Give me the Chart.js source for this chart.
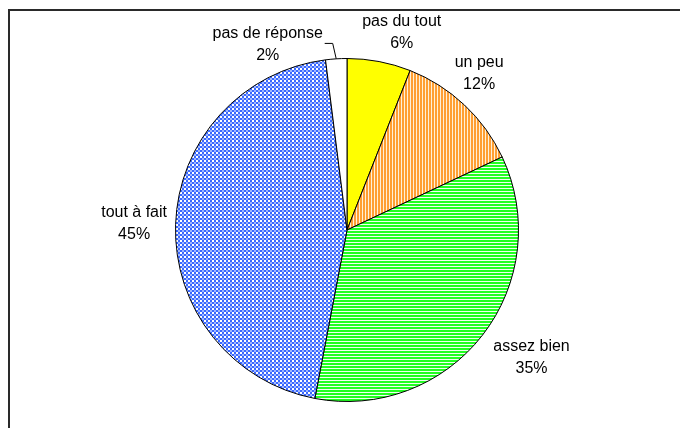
<!DOCTYPE html>
<html>
<head>
<meta charset="utf-8">
<script src="https://cdn.jsdelivr.net/npm/chart.js@4/dist/chart.umd.min.js"></script>
<style>
  html, body { margin: 0; padding: 0; background: #fff; }
  #wrap { position: relative; width: 680px; height: 428px; overflow: hidden; }
  #frame { position: absolute; left: 8px; top: 9px; right: -10px; bottom: -10px;
           border-left: 2px solid #2a2a2a; border-top: 2px solid #2a2a2a; pointer-events: none; }
  canvas { position: absolute; left: 0; top: 0; }
</style>
</head>
<body>
<div id="wrap">
  <canvas id="c" width="680" height="428"></canvas>
  <div id="frame"></div>
</div>
<script>
// ---- data ----
const categories = ["pas du tout", "un peu", "assez bien", "tout à fait", "pas de réponse"];
const values = [6, 12, 35, 45, 2];
const percentLabels = ["6%", "12%", "35%", "45%", "2%"];

// ---- styles ----
function makePattern(w, h, draw) {
  const c = document.createElement('canvas');
  c.width = w; c.height = h;
  const x = c.getContext('2d');
  draw(x);
  return x.createPattern(c, 'repeat');
}
const yellow = '#FFFF00';
const orangeStripes = makePattern(3, 1, x => {
  x.fillStyle = '#FFF0D8'; x.fillRect(0, 0, 3, 1);
  x.fillStyle = '#FF9F33'; x.fillRect(0, 0, 2, 1);
});
const greenStripes = makePattern(1, 3, x => {
  x.fillStyle = '#F0FFF0'; x.fillRect(0, 0, 1, 3);
  x.fillStyle = '#22FF22'; x.fillRect(0, 0, 1, 2);
});
const blueChecker = makePattern(4, 4, x => {
  x.fillStyle = '#3A68FF'; x.fillRect(0, 0, 4, 4);
  x.fillStyle = '#FFFFFF'; x.fillRect(0, 0, 2, 2);
  x.fillStyle = '#9FB7FF'; x.fillRect(2, 2, 2, 2);
});
const fills = [yellow, orangeStripes, greenStripes, blueChecker, '#FFFFFF'];

// label placement tweaks (pixels) relative to a point outside each slice
const labelDistance = 212;
const labelNudge = [[15, 11], [-13, -2], [17, -2], [-1, 0], [-66, 26]];
const leaderFor = [false, false, false, false, true];

const labelPlugin = {
  id: 'outerLabels',
  afterDatasetsDraw(chart) {
    const ctx = chart.ctx;
    const meta = chart.getDatasetMeta(0);
    ctx.save();
    ctx.font = '16px "Liberation Sans", Arial, sans-serif';
    ctx.fillStyle = '#000';
    ctx.textAlign = 'center';
    ctx.textBaseline = 'middle';
    meta.data.forEach((arc, i) => {
      const p = arc.getProps(['x', 'y', 'startAngle', 'endAngle', 'outerRadius'], true);
      const mid = (p.startAngle + p.endAngle) / 2;
      const lx = p.x + Math.cos(mid) * labelDistance + labelNudge[i][0];
      const ly = p.y + Math.sin(mid) * labelDistance + labelNudge[i][1];
      ctx.fillText(categories[i], lx, ly - 11);
      ctx.fillText(percentLabels[i], lx, ly + 11);
      if (leaderFor[i]) {
        const ex = p.x + Math.cos(mid) * p.outerRadius;
        const ey = p.y + Math.sin(mid) * p.outerRadius;
        ctx.beginPath();
        ctx.strokeStyle = '#000';
        ctx.lineWidth = 1;
        ctx.moveTo(ex, ey);
        ctx.lineTo(lx + 65, ly - 1);
        ctx.lineTo(lx + 57, ly - 1);
        ctx.stroke();
      }
    });
    ctx.restore();
  }
};

new Chart(document.getElementById('c'), {
  type: 'pie',
  data: {
    labels: categories,
    datasets: [{
      data: values,
      backgroundColor: fills,
      borderColor: '#000',
      borderWidth: 1
    }]
  },
  options: {
    responsive: false,
    animation: false,
    layout: { padding: { left: 14, right: 0, top: 58, bottom: 26 } },
    plugins: { legend: { display: false }, tooltip: { enabled: false } }
  },
  plugins: [labelPlugin]
});
</script>
</body>
</html>
